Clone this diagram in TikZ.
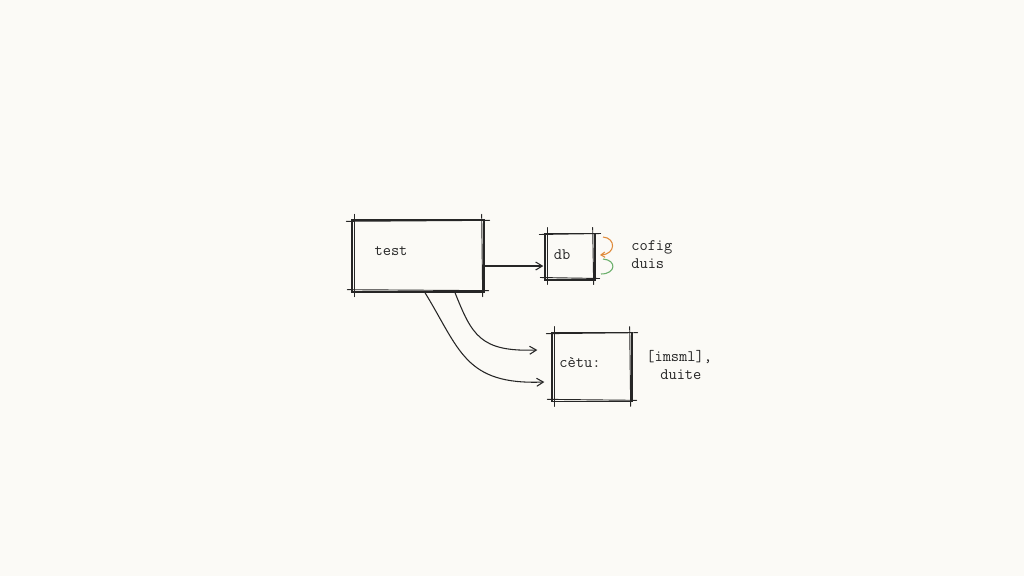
\documentclass[tikz,border=0pt]{standalone}
\usetikzlibrary{arrows.meta,calc}
\definecolor{paper}{HTML}{FBFAF6}
\definecolor{ink}{HTML}{262626}
\definecolor{sketchorange}{HTML}{E08A3A}
\definecolor{sketchgreen}{HTML}{6BAF6B}
\tikzset{
  boxnode/.style={draw=ink, line width=1pt, inner sep=0pt, rectangle},
  lbl/.style={font=\ttfamily\fontsize{12}{14}\selectfont, text=ink, inner sep=0pt},
  note/.style={font=\ttfamily\fontsize{12}{14}\selectfont, text=ink, inner sep=0pt, align=left},
  inkline/.style={draw=ink, line width=0.7pt, line cap=round},
  conn/.style={draw=ink, line width=0.8pt, -{Straight Barb[length=5pt,width=6pt]}},
}
\newcommand\sketchframe[1]{%
  \draw[inkline] ([shift={(-5,2)}]#1.north west) -- ([shift={(5,1)}]#1.north east);
  \draw[inkline] ([shift={(-4,-3)}]#1.south west) -- ([shift={(4,-2)}]#1.south east);
  \draw[inkline] ([shift={(3,-5)}]#1.north west) -- ([shift={(3,4)}]#1.south west);
  \draw[inkline] ([shift={(-3,-5)}]#1.north east) -- ([shift={(-2,4)}]#1.south east);
}
\begin{document}
\begin{tikzpicture}[x=0.75pt,y=-0.75pt]
  \fill[paper] (0,0) rectangle (1024,576);
  \useasboundingbox (0,0) rectangle (1024,576);

  % boxes
  \node[boxnode, minimum width=99pt, minimum height=54pt] (test) at (418,256) {};
  \node[boxnode, minimum width=37.5pt, minimum height=35pt] (db) at (570,256.5) {};
  \node[boxnode, minimum width=60pt, minimum height=52pt] (cetu) at (592,367) {};
  \sketchframe{test}
  \sketchframe{db}
  \sketchframe{cetu}

  % labels
  \node[lbl] (testtxt) at (391,251) {test};
  \node[lbl] (dbtxt) at (562,255) {db};
  \node[lbl] (cetutxt) at (580,363) {cètu:};

  % notes
  \node[note, anchor=west] (cofig) at (631,247) {cofig};
  \node[note, anchor=west] (duis) at (631,264) {duis};
  \node[note, anchor=west] (imsml) at (646,357) {[imsml],};
  \node[note, anchor=west] (duite) at (660,375) {duite};

  % connectors
  \draw[conn] ($(test.east)+(0,10)$) -- ($(db.west)+(-1,9.5)$);
  \coordinate (upEnd) at ($(cetu.west)+(-14,-17)$);
  \coordinate (loEnd) at ($(cetu.west)+(-7,15)$);
  \draw[conn] ($(test.south)+(37,0)$) .. controls (472,335) and (480,352) .. (upEnd);
  \draw[conn] ($(test.south)+(7,0)$) .. controls (460,350) and (465,385) .. (loEnd);

  % coloured brackets
  \draw[sketchorange, line width=0.8pt, -{Straight Barb[length=3pt,width=4pt]}]
    (603,237) .. controls (616,238) and (616,254) .. (600,255);
  \draw[sketchgreen, line width=0.8pt]
    (603,259) .. controls (617,260) and (616,274) .. (601,274);
\end{tikzpicture}
\end{document}
